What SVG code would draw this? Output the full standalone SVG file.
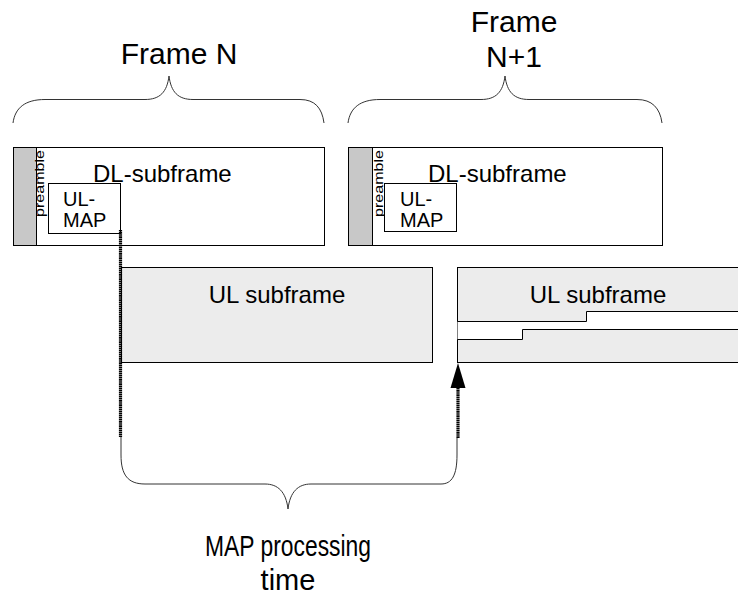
<svg xmlns="http://www.w3.org/2000/svg" width="738" height="598" viewBox="0 0 738 598">
<style>
text{font-family:"Liberation Sans",Arial,sans-serif;fill:#000}
.box{fill:#fff;stroke:#000;stroke-width:1}
.pre{fill:#c8c8c8;stroke:#000;stroke-width:1}
.ul{fill:#ececec;stroke:#000;stroke-width:1}
.brace{fill:none;stroke:#333;stroke-width:1}
.dot{fill:none;stroke:#000;stroke-width:3.2;stroke-dasharray:1.6 0.5}
.big{font-size:30px}
.mid{font-size:24px}
.sm{font-size:20px}
.pt{font-size:13px}
</style>
<rect width="738" height="598" fill="#fff"/>
<g id="frameN-label">
<text class="big" x="179" y="64" text-anchor="middle">Frame N</text>
<path class="brace" d="M13,123 C15,108 25,99.5 45,99.5 L145,99.5 C160,99.5 167,92 169,76 C171,92 178,99.5 193,99.5 L300,99.5 C315,99.5 322,108 324,123"/>
</g>
<g id="frameN1-label">
<text class="big" x="514" y="32" text-anchor="middle">Frame</text>
<text class="big" x="514" y="67" text-anchor="middle">N+1</text>
<path class="brace" d="M348,123 C350,108 360,99.5 380,99.5 L481,99.5 C496,99.5 503,92 505,76 C507,92 514,99.5 529,99.5 L637,99.5 C652,99.5 660,108 662,123"/>
</g>
<g id="dl-subframe-1">
<rect class="box" x="13.5" y="147.5" width="311" height="98"/>
<rect class="pre" x="13.5" y="147.5" width="23" height="98"/>
<text class="pt" transform="translate(43.5,217) rotate(-90)" textLength="67" lengthAdjust="spacingAndGlyphs">preamble</text>
<text class="mid" x="93" y="182">DL-subframe</text>
</g>
<g id="ul-map-1">
<rect class="box" x="48.5" y="183.5" width="72" height="50"/>
<text class="sm" x="63" y="206">UL-</text>
<text class="sm" x="63" y="227">MAP</text>
</g>
<g id="dl-subframe-2">
<rect class="box" x="348.5" y="147.5" width="314" height="98"/>
<rect class="pre" x="348.5" y="147.5" width="24" height="98"/>
<text class="pt" transform="translate(382.5,217) rotate(-90)" textLength="67" lengthAdjust="spacingAndGlyphs">preamble</text>
<text class="mid" x="428" y="182">DL-subframe</text>
</g>
<g id="ul-map-2">
<rect class="box" x="384.5" y="183.5" width="72" height="48"/>
<text class="sm" x="400" y="206">UL-</text>
<text class="sm" x="400" y="227">MAP</text>
</g>
<g id="ul-subframe-1">
<rect class="ul" x="121.5" y="267.5" width="311" height="95"/>
<text class="mid" x="277" y="303" text-anchor="middle">UL subframe</text>
</g>
<g id="ul-subframe-2">
<rect class="ul" x="457.5" y="267.5" width="290" height="95"/>
<path d="M457.5,321.5 L586.5,321.5 L586.5,311.5 L740,311.5 L740,329.5 L522.5,329.5 L522.5,339.5 L457.5,339.5 Z" fill="#fff" stroke="none"/>
<path d="M457.5,321.5 L586.5,321.5 L586.5,311.5 L740,311.5 M457.5,339.5 L522.5,339.5 L522.5,329.5 L740,329.5" fill="none" stroke="#000" stroke-width="1"/>
<text class="mid" x="598" y="303" text-anchor="middle">UL subframe</text>
</g>
<g id="connectors">
<line class="dot" x1="120.5" y1="230" x2="120.5" y2="437"/>
<line class="dot" x1="458" y1="388" x2="458" y2="438"/>
<polygon points="458,363 450.5,388 465.5,388" fill="#000"/>
<path class="brace" d="M121,437 L121,455 C121,475 128,484 145,484 L265,484 C278,484 286,492 288,509 C290,492 298,484 311,484 L441,484 C452,484 457,475 457,455 L457,438"/>
</g>
<g id="map-label">
<text x="288" y="556" text-anchor="middle" font-size="29" textLength="166" lengthAdjust="spacingAndGlyphs">MAP processing</text>
<text x="288" y="590" text-anchor="middle" font-size="29">time</text>
</g>
</svg>
